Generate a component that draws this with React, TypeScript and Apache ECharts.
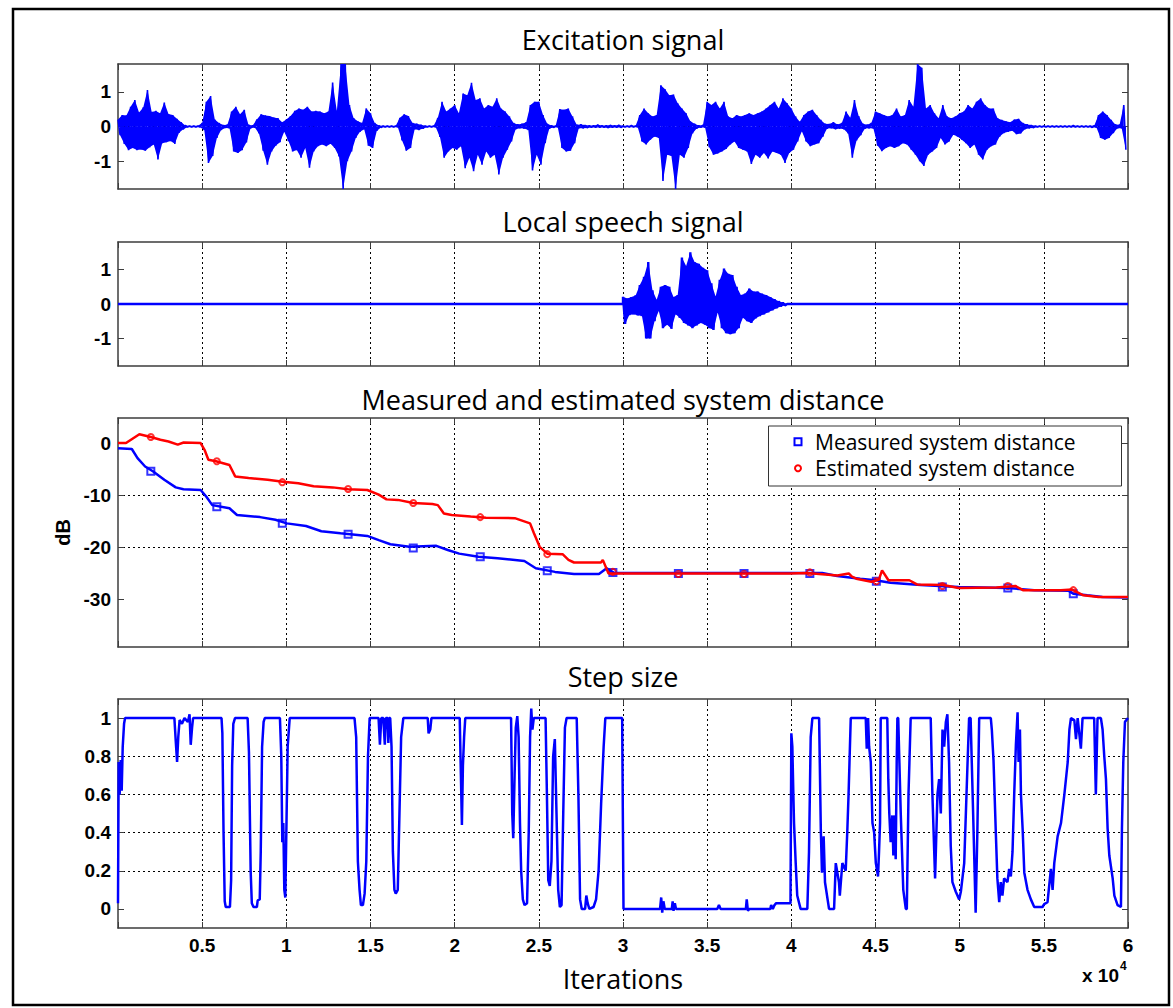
import React, { useEffect, useRef } from 'react';
import * as echarts from 'echarts';

// ---------------------------------------------------------------------------
// Data
// ---------------------------------------------------------------------------

const X_MAX = 60000;
const X_TICK_STEP = 5000;
const BIN = 250; // iterations per envelope bin of the speech waveforms

// Excitation signal: upper / lower envelope per 250-iteration bin (240 bins)
const EXC_HI = [
  0.2, 0.33, 0.32, 0.57, 0.76, 0.4, 0.55, 1.05, 0.42, 0.45,
  0.38, 0.69, 0.36, 0.33, 0.22, 0.12, 0.03, 0.02, 0.02, 0.02,
  0.1, 0.71, 0.88, 0.2, 0.1, 0.04, 0.05, 0.43, 0.57, 0.35,
  0.48, 0.05, 0.03, 0.2, 0.35, 0.32, 0.3, 0.26, 0.24, 0.12,
  0.2, 0.3, 0.45, 0.52, 0.48, 0.57, 0.43, 0.45, 0.43, 0.38,
  0.43, 1.27, 0.45, 1.8, 1.8, 0.62, 0.24, 0.15, 0.1, 0.52,
  0.38, 0.1, 0.03, 0.02, 0.02, 0.02, 0.02, 0.25, 0.35, 0.3,
  0.1, 0.08, 0.05, 0.02, 0.02, 0.02, 0.25, 0.71, 0.43, 0.52,
  0.62, 0.38, 0.95, 0.9, 1.26, 0.76, 0.81, 0.52, 0.62, 0.57,
  0.81, 0.52, 0.43, 0.29, 0.1, 0.06, 0.08, 0.12, 0.62, 0.71,
  0.71, 0.33, 0.08, 0.03, 0.02, 0.5, 0.48, 0.52, 0.29, 0.05,
  0.06, 0.04, 0.03, 0.03, 0.05, 0.03, 0.03, 0.04, 0.03, 0.04,
  0.02, 0.02, 0.03, 0.02, 0.33, 0.52, 0.38, 0.29, 0.33, 1.19,
  1.07, 0.9, 0.92, 0.67, 0.52, 0.38, 0.15, 0.08, 0.03, 0.04,
  0.71, 0.62, 0.71, 0.52, 0.71, 0.29, 0.24, 0.33, 0.29, 0.33,
  0.38, 0.33, 0.38, 0.43, 0.52, 0.62, 0.71, 0.52, 0.81, 0.67,
  0.52, 0.29, 0.14, 0.33, 0.43, 0.48, 0.33, 0.19, 0.08, 0.07,
  0.12, 0.06, 0.1, 0.43, 0.25, 0.76, 0.3, 0.08, 0.05, 0.1,
  0.43, 0.38, 0.33, 0.29, 0.33, 0.52, 0.29, 0.33, 0.76, 0.57,
  1.8, 1.69, 0.52, 0.62, 0.38, 0.24, 0.62, 0.29, 0.24, 0.29,
  0.38, 0.43, 0.62, 0.52, 0.71, 0.81, 0.62, 0.52, 0.52, 0.24,
  0.19, 0.15, 0.12, 0.2, 0.22, 0.1, 0.06, 0.04, 0.02, 0.02,
  0.02, 0.02, 0.02, 0.02, 0.02, 0.02, 0.02, 0.03, 0.02, 0.02,
  0.02, 0.02, 0.03, 0.33, 0.43, 0.33, 0.19, 0.06, 0.05, 0.62,
];
const EXC_LO = [
  -0.25, -0.5, -0.68, -0.62, -0.68, -0.66, -0.7, -0.6, -0.52, -0.95,
  -0.48, -0.45, -0.42, -0.5, -0.18, -0.08, -0.02, -0.02, -0.02, -0.02,
  -0.1, -1.05, -0.85, -0.33, -0.1, -0.04, -0.05, -0.72, -0.76, -0.68,
  -0.46, -0.05, -0.03, -0.2, -0.7, -1.1, -0.72, -0.55, -0.45, -0.15,
  -0.42, -0.72, -0.68, -0.9, -0.62, -1.19, -0.72, -0.57, -0.52, -0.57,
  -0.5, -0.62, -0.86, -1.8, -1.0, -0.72, -0.33, -0.15, -0.08, -0.55,
  -0.62, -0.12, -0.03, -0.02, -0.02, -0.02, -0.02, -0.4, -0.7, -0.62,
  -0.08, -0.1, -0.06, -0.02, -0.02, -0.02, -0.3, -0.9, -0.72, -0.62,
  -0.67, -0.57, -1.2, -0.9, -1.29, -0.81, -1.1, -0.72, -0.9, -0.81,
  -1.38, -0.9, -0.67, -0.43, -0.08, -0.05, -0.06, -0.1, -1.27, -0.81,
  -1.1, -0.48, -0.06, -0.03, -0.02, -0.62, -0.72, -0.7, -0.48, -0.05,
  -0.05, -0.04, -0.03, -0.03, -0.03, -0.03, -0.04, -0.03, -0.03, -0.03,
  -0.02, -0.02, -0.02, -0.02, -0.43, -0.52, -0.38, -0.29, -0.33, -1.57,
  -0.81, -0.85, -1.8, -0.81, -0.9, -0.62, -0.2, -0.06, -0.03, -0.03,
  -0.6, -0.81, -0.78, -0.72, -0.65, -0.52, -0.43, -0.62, -0.67, -0.72,
  -1.08, -0.81, -0.9, -0.76, -0.92, -0.72, -0.76, -0.81, -1.05, -0.76,
  -0.67, -0.43, -0.14, -0.43, -0.57, -0.52, -0.48, -0.29, -0.06, -0.05,
  -0.08, -0.06, -0.08, -0.2, -0.9, -0.4, -0.25, -0.06, -0.05, -0.06,
  -0.55, -0.71, -0.62, -0.57, -0.62, -0.57, -0.48, -0.52, -0.67, -0.81,
  -1.0, -1.14, -0.81, -0.72, -0.62, -0.33, -0.52, -0.43, -0.24, -0.29,
  -0.38, -0.48, -0.62, -0.52, -0.81, -0.95, -0.67, -0.57, -0.52, -0.29,
  -0.19, -0.15, -0.12, -0.22, -0.2, -0.08, -0.05, -0.04, -0.02, -0.02,
  -0.02, -0.02, -0.02, -0.02, -0.02, -0.02, -0.02, -0.02, -0.02, -0.02,
  -0.02, -0.03, -0.03, -0.33, -0.38, -0.33, -0.19, -0.05, -0.05, -0.67,
];

// Local speech signal: silent except bins 120..158
const LOCAL_FIRST_BIN = 120;
const LOCAL_HI = [
  0.21, 0.16, 0.2, 0.25, 0.55, 0.79, 1.22, 0.4, 0.12, 0.5,
  0.55, 0.5, 0.2, 0.26, 1.35, 1.1, 1.5, 1.22, 1.17, 1.05,
  0.98, 0.6, 0.22, 0.7, 1.03, 0.88, 0.84, 0.5, 0.26, 0.3,
  0.45, 0.36, 0.36, 0.3, 0.26, 0.2, 0.14, 0.08, 0.04,
];
const LOCAL_LO = [
  -0.58, -0.32, -0.3, -0.33, -0.35, -1.0, -1.0, -0.5, -0.2, -0.7,
  -0.6, -0.72, -0.3, -0.4, -0.55, -0.62, -0.7, -0.62, -0.55, -0.6,
  -0.7, -0.75, -0.25, -0.7, -0.85, -0.88, -0.85, -0.7, -0.4, -0.5,
  -0.55, -0.42, -0.35, -0.3, -0.24, -0.18, -0.12, -0.07, -0.04,
];

// System distance in dB: [iteration, value]
const MEASURED: [number, number][] = [
  [0, -1.0], [820, -1.15], [1160, -2.9], [1610, -4.5], [2070, -5.4], [2750, -7.05],
  [3430, -8.5], [3890, -8.85], [4910, -9.0], [5250, -10.3], [5600, -11.9], [6620, -12.5],
  [7070, -13.8], [8440, -14.2], [9350, -14.7], [10030, -15.4], [11170, -15.9], [12080, -16.9],
  [13220, -17.3], [14810, -17.8], [15490, -18.6], [16180, -19.4], [17310, -19.9], [18910, -19.7],
  [19590, -20.5], [20270, -21.2], [21410, -21.8], [22550, -22.1], [24140, -22.6], [24820, -24.0],
  [25960, -24.7], [27090, -25.1], [28570, -25.1], [29030, -24.0], [29470, -24.9], [41830, -24.9],
  [42730, -25.5], [44090, -26.0], [44990, -26.3], [45890, -26.8], [47690, -27.2], [49930, -27.6],
  [52860, -27.8], [54430, -28.2], [56460, -28.3], [56750, -28.9], [57580, -29.2], [58480, -29.5],
  [60000, -29.6],
];
const ESTIMATED: [number, number][] = [
  [0, 0], [475, 0], [1270, 1.7], [1950, 1.15], [2520, 0.64], [3000, 0.3], [3550, -0.3],
  [3900, 0.1], [4910, 0.0], [5140, -1.3], [5370, -3.2], [5820, -3.5], [6620, -4.2],
  [6960, -6.4], [7760, -6.7], [8890, -7.05], [9800, -7.4], [10710, -7.7], [11620, -8.3],
  [12760, -8.5], [13670, -8.85], [14810, -9.0], [15490, -9.9], [15950, -10.8], [16630, -10.9],
  [17540, -11.5], [18680, -11.7], [19000, -11.9], [19360, -13.5], [19820, -13.8], [20950, -14.1],
  [21860, -14.3], [23570, -14.4], [24480, -15.4], [24710, -17.3], [25050, -19.9], [25500, -21.2],
  [26410, -21.3], [26760, -22.4], [27090, -22.9], [28690, -22.9], [28800, -22.4], [29140, -25.0],
  [39930, -25.0], [40940, -24.9], [42730, -25.4], [43410, -25.0], [43600, -25.6], [43860, -26.0],
  [44750, -26.6], [45200, -26.2], [45390, -24.4], [45770, -26.3], [47010, -26.3], [47460, -27.1],
  [49030, -27.2], [49930, -27.8], [52180, -27.7], [53310, -27.4], [53760, -28.2], [56010, -28.2],
  [56680, -28.1], [57350, -29.2], [58250, -29.5], [60000, -29.5],
];
const MEASURED_MARKS: [number, number][] = [
  [1950, -5.4], [5870, -12.2], [9760, -15.4], [13670, -17.5], [17540, -20.1],
  [21520, -21.8], [25500, -24.5], [29400, -24.8], [33290, -25.0], [37190, -25.0],
  [41100, -25.0], [45050, -26.5], [48970, -27.6], [52860, -27.8], [56750, -28.9],
];
const ESTIMATED_MARKS: [number, number][] = [
  [1950, 1.15], [5870, -3.5], [9760, -7.5], [13670, -8.8], [17540, -11.5],
  [21520, -14.2], [25500, -21.3], [29400, -24.7], [33290, -25.1], [37190, -25.1],
  [41100, -24.8], [45050, -26.5], [48970, -27.4], [52860, -27.4], [56750, -28.2],
];

// Adaptive step size: [iteration, value]
const STEP_SIZE: [number, number][] = [
  [0, 0.03], [40, 0.77], [100, 0.6], [160, 0.78], [220, 0.62], [280, 0.85], [360, 0.97], [420, 1],
  [3350, 1], [3430, 0.88], [3510, 0.77], [3580, 0.9], [3660, 0.99], [3800, 0.97], [3950, 1.0],
  [4150, 0.98], [4250, 1.02], [4320, 0.86], [4400, 0.95], [4460, 1],
  [6150, 1], [6200, 0.92], [6270, 0.4], [6340, 0.04], [6400, 0.01], [6650, 0.01], [6720, 0.15],
  [6780, 0.75], [6850, 0.97], [6950, 1],
  [7700, 1], [7780, 0.82], [7880, 0.2], [7950, 0.03], [8050, 0.01], [8250, 0.01], [8300, 0.045],
  [8420, 0.05], [8480, 0.3], [8560, 0.85], [8650, 0.98], [8720, 1],
  [9620, 1], [9700, 0.8], [9760, 0.35], [9820, 0.45], [9880, 0.1], [9940, 0.06], [10000, 0.4],
  [10080, 0.85], [10200, 1],
  [14050, 1], [14150, 0.9], [14250, 0.25], [14350, 0.1], [14430, 0.02], [14550, 0.02], [14650, 0.08],
  [14750, 0.25], [14850, 0.8], [14950, 1],
  [15480, 1], [15560, 0.86], [15640, 1], [15760, 1], [15850, 0.86], [15910, 1], [16020, 1],
  [16060, 0.87], [16110, 1], [16170, 1], [16250, 0.85], [16330, 0.3], [16420, 0.1], [16500, 0.08],
  [16620, 0.1], [16720, 0.5], [16820, 0.9], [16950, 1],
  [18400, 1], [18450, 0.92], [18550, 0.94], [18620, 1],
  [20300, 1], [20370, 0.7], [20430, 0.44], [20490, 0.75], [20560, 0.9], [20630, 1],
  [23350, 1], [23420, 0.5], [23480, 0.37], [23560, 0.7], [23630, 0.95], [23720, 1.01], [23800, 0.9],
  [23880, 0.45], [23950, 0.2], [24050, 0.05], [24150, 0.02], [24300, 0.03], [24400, 0.4],
  [24480, 0.9], [24550, 1.05], [24620, 0.94], [24700, 1],
  [25400, 1], [25480, 0.6], [25560, 0.15], [25650, 0.12], [25750, 0.25], [25850, 0.8], [25950, 0.89],
  [26050, 0.5], [26150, 0.1], [26250, 0.01], [26350, 0.02], [26450, 0.5], [26550, 0.95], [26650, 1],
  [27250, 1], [27350, 0.6], [27450, 0.05], [27550, 0.0], [27750, 0], [27820, 0.07], [27900, 0.03],
  [28000, 0.0], [28250, 0.01], [28400, 0.05], [28550, 0.2], [28700, 0.55], [28850, 0.85], [28950, 1],
  [29950, 1], [30030, 0.0],
  [32200, 0], [32270, 0.06], [32330, -0.02], [32400, 0.04], [32480, 0.0], [32900, 0.0], [32950, 0.04],
  [33000, -0.01], [33080, 0.03], [33150, 0.0],
  [35600, 0], [35700, 0.02], [35800, 0],
  [37300, 0], [37350, 0.05], [37420, -0.01], [37500, 0],
  [38750, 0], [38800, 0.02], [38900, 0.0], [39000, 0.02], [39100, 0.03], [39950, 0.03],
  [40000, 0.92], [40060, 0.85], [40120, 0.6], [40160, 0.45], [40260, 0.24], [40350, 0.07],
  [40550, 0.0], [40950, 0.0], [41050, 0.3], [41150, 0.9], [41250, 1], [41650, 1], [41750, 0.42],
  [41820, 0.19], [41920, 0.38], [42000, 0.14], [42240, 0.0], [42540, 0.0], [42640, 0.24],
  [42830, 0.14], [42880, 0.07], [43030, 0.24], [43230, 0.2], [43330, 0.42], [43400, 0.6], [43530, 1],
  [44420, 1], [44480, 0.84], [44560, 1.0], [44620, 0.85], [44720, 0.77], [44820, 0.45], [44920, 0.4],
  [45020, 0.24], [45150, 0.17], [45210, 0.3], [45270, 0.45], [45310, 1], [45700, 1], [45760, 0.68],
  [45820, 0.5], [45900, 0.35], [46000, 0.49], [46060, 0.28], [46140, 0.49], [46200, 0.26],
  [46260, 0.77], [46300, 1], [46350, 1], [46500, 0.5], [46650, 0.1], [46800, 0.0], [46860, 0.0],
  [46960, 0.6], [47090, 1],
  [48280, 1], [48380, 0.6], [48540, 0.16], [48680, 0.6], [48780, 0.68], [48880, 0.5], [48980, 0.94],
  [49080, 0.85], [49180, 0.98], [49270, 1.02], [49370, 0.77], [49470, 0.33], [49570, 0.14],
  [49770, 0.09], [49970, 0.05], [50070, 0.09], [50270, 0.24], [50470, 0.77], [50560, 1], [50650, 1],
  [50800, 0.5], [50950, -0.02], [51050, 0.4], [51160, 1],
  [51850, 1], [51910, 0.94], [52010, 0.78], [52140, 0.42], [52240, 0.16], [52350, 0.035],
  [52440, 0.14], [52540, 0.07], [52640, 0.16], [52840, 0.14], [52940, 0.21], [53040, 0.17],
  [53140, 0.3], [53240, 0.6], [53340, 0.86], [53440, 1.03], [53500, 0.77], [53580, 0.94],
  [53640, 0.6], [53740, 0.42], [53840, 0.19], [54030, 0.1], [54230, 0.05], [54430, 0.01],
  [54920, 0.01], [55020, 0.025], [55220, 0.035], [55420, 0.21], [55520, 0.1], [55620, 0.24],
  [55820, 0.38], [56020, 0.45], [56220, 0.6], [56420, 0.77], [56520, 0.94], [56610, 1],
  [56810, 0.99], [56910, 0.89], [57010, 1], [57200, 0.84], [57300, 1], [57990, 1], [58090, 0.6],
  [58190, 1], [58390, 1], [58490, 0.94], [58590, 0.8], [58690, 0.68], [58790, 0.42], [58890, 0.28],
  [59090, 0.16], [59190, 0.07], [59380, 0.02], [59580, 0.01], [59640, 0.42], [59720, 0.77],
  [59820, 0.98], [60000, 1],
];

const TITLES = [
  'Excitation signal',
  'Local speech signal',
  'Measured and estimated system distance',
  'Step size',
];
const Y_RANGES: [number, number][] = [[-1.8, 1.8], [-1.8, 1.8], [-39.1, 4.8], [-0.1, 1.1]];
const Y_TICKS = [[-1, 0, 1], [-1, 0, 1], [-30, -20, -10, 0], [0, 0.2, 0.4, 0.6, 0.8, 1]];
const LEGEND_NAMES = ['Measured system distance', 'Estimated system distance'];

// ---------------------------------------------------------------------------
// Layout and style
// ---------------------------------------------------------------------------

const WIDTH = 1173;
const HEIGHT = 1008;
const PLOT_LEFT = 118;
const PLOT_WIDTH = 1010;
const PLOT_CENTER = PLOT_LEFT + PLOT_WIDTH / 2;
const PANELS = [
  { top: 64, height: 125, titleY: 39.5 },
  { top: 242, height: 124, titleY: 221 },
  { top: 418, height: 229, titleY: 399 },
  { top: 699, height: 229, titleY: 676.5 },
];
const BLUE = '#0000ff';
const RED = '#ff0000';
const AXIS_COLOR = '#3c3c3c';
const TITLE_FONT = '"Open Sans", sans-serif';
const TICK_FONT = {
  fontFamily: '"Liberation Sans", Arial, sans-serif',
  fontWeight: 'bold' as const,
  fontSize: 19,
  color: '#000',
};

// Speech envelope bins drawn as a dense up/down trace
function zigzag(hi: number[], lo: number[], firstBin: number): [number, number][] {
  const pts: [number, number][] = [];
  hi.forEach((h, i) => {
    const x0 = (firstBin + i) * BIN;
    pts.push([x0, h], [x0 + BIN / 2, lo[i]]);
  });
  return pts;
}

// One side of the envelope as a filled outline
function envelope(vals: number[], firstBin: number, offset: number): [number, number][] {
  return vals.map((v, i) => [(firstBin + i) * BIN + offset, v] as [number, number]);
}

function buildOption(): echarts.EChartsOption {
  const axisLine = { show: true, onZero: false, lineStyle: { color: AXIS_COLOR, width: 1.5 } };
  const tick = { show: true, inside: true, length: 6, lineStyle: { color: AXIS_COLOR, width: 1 } };
  const dotted = {
    show: true,
    showMinLine: false,
    showMaxLine: false,
    lineStyle: { color: '#000', width: 1, type: [2, 3] as number[] },
  };

  const grid = PANELS.map((p) => ({
    left: PLOT_LEFT,
    width: PLOT_WIDTH,
    top: p.top,
    height: p.height,
    containLabel: false,
  }));

  const xAxis: any[] = [];
  PANELS.forEach((_, i) =>
    xAxis.push({
      gridIndex: i,
      type: 'value',
      min: 0,
      max: X_MAX,
      interval: X_TICK_STEP,
      position: 'bottom',
      axisLine,
      axisTick: tick,
      axisLabel: {
        show: i === PANELS.length - 1,
        margin: 8,
        formatter: (v: number) => (v === 0 ? '' : String(v / 10000)),
        ...TICK_FONT,
      },
      splitLine: dotted,
    })
  );
  PANELS.forEach((_, i) =>
    xAxis.push({
      gridIndex: i,
      type: 'value',
      min: 0,
      max: X_MAX,
      interval: X_TICK_STEP,
      position: 'top',
      axisLine,
      axisTick: tick,
      axisLabel: { show: false },
      splitLine: { show: false },
    })
  );

  const yAxis: any[] = [];
  PANELS.forEach((_, i) =>
    yAxis.push({
      gridIndex: i,
      type: 'value',
      min: Y_RANGES[i][0],
      max: Y_RANGES[i][1],
      position: 'left',
      axisLine,
      axisTick: { ...tick, customValues: Y_TICKS[i] },
      axisLabel: { customValues: Y_TICKS[i], margin: 7, ...TICK_FONT },
      splitLine: dotted,
      ...(i === 2
        ? {
            name: 'dB',
            nameLocation: 'middle',
            nameGap: 44,
            nameTextStyle: { ...TICK_FONT, fontSize: 20 },
          }
        : {}),
    })
  );
  PANELS.forEach((_, i) =>
    yAxis.push({
      gridIndex: i,
      type: 'value',
      min: Y_RANGES[i][0],
      max: Y_RANGES[i][1],
      position: 'right',
      axisLine,
      axisTick: { ...tick, customValues: Y_TICKS[i] },
      axisLabel: { show: false, customValues: Y_TICKS[i] },
      splitLine: { show: false },
    })
  );

  const localStart = LOCAL_FIRST_BIN * BIN;
  const localEnd = (LOCAL_FIRST_BIN + LOCAL_HI.length) * BIN;
  const localData: [number, number][] = [
    [0, 0],
    [localStart, 0],
    ...zigzag(LOCAL_HI, LOCAL_LO, LOCAL_FIRST_BIN),
    [localEnd, 0],
    [X_MAX, 0],
  ];

  const lineBase = { type: 'line' as const, symbol: 'none', showSymbol: false, animation: false, clip: true };
  const areaBase = {
    ...lineBase,
    lineStyle: { width: 0, opacity: 0 },
    areaStyle: { color: BLUE, opacity: 1 },
    silent: true,
  };

  const series: any[] = [
    // excitation: filled envelope plus the trace on top
    {
      ...areaBase,
      name: 'excitationUpper',
      xAxisIndex: 0,
      yAxisIndex: 0,
      data: envelope(EXC_HI, 0, 0),
    },
    {
      ...areaBase,
      name: 'excitationLower',
      xAxisIndex: 0,
      yAxisIndex: 0,
      data: envelope(EXC_LO, 0, BIN / 2),
    },
    {
      ...lineBase,
      name: 'excitation',
      xAxisIndex: 0,
      yAxisIndex: 0,
      data: zigzag(EXC_HI, EXC_LO, 0),
      lineStyle: { color: BLUE, width: 1.6 },
    },
    // local speech
    {
      ...areaBase,
      name: 'localUpper',
      xAxisIndex: 1,
      yAxisIndex: 1,
      data: [[localStart, 0], ...envelope(LOCAL_HI, LOCAL_FIRST_BIN, 0), [localEnd, 0]],
    },
    {
      ...areaBase,
      name: 'localLower',
      xAxisIndex: 1,
      yAxisIndex: 1,
      data: [[localStart, 0], ...envelope(LOCAL_LO, LOCAL_FIRST_BIN, BIN / 2), [localEnd, 0]],
    },
    {
      ...lineBase,
      name: 'local',
      xAxisIndex: 1,
      yAxisIndex: 1,
      data: localData,
      lineStyle: { color: BLUE, width: 2.4 },
    },
    // system distance
    {
      ...lineBase,
      name: 'measuredLine',
      xAxisIndex: 2,
      yAxisIndex: 2,
      data: MEASURED,
      lineStyle: { color: BLUE, width: 2.5 },
    },
    {
      type: 'scatter',
      name: LEGEND_NAMES[0],
      xAxisIndex: 2,
      yAxisIndex: 2,
      data: MEASURED_MARKS,
      symbol: 'rect',
      symbolSize: 7,
      itemStyle: { color: 'rgba(0,0,0,0)', borderColor: BLUE, borderWidth: 2 },
      animation: false,
    },
    {
      ...lineBase,
      name: 'estimatedLine',
      xAxisIndex: 2,
      yAxisIndex: 2,
      data: ESTIMATED,
      lineStyle: { color: RED, width: 2.5 },
    },
    {
      type: 'scatter',
      name: LEGEND_NAMES[1],
      xAxisIndex: 2,
      yAxisIndex: 2,
      data: ESTIMATED_MARKS,
      symbol: 'circle',
      symbolSize: 6,
      itemStyle: { color: 'rgba(0,0,0,0)', borderColor: RED, borderWidth: 2 },
      animation: false,
    },
    // step size
    {
      ...lineBase,
      name: 'step',
      xAxisIndex: 3,
      yAxisIndex: 3,
      data: STEP_SIZE,
      lineStyle: { color: BLUE, width: 2.5 },
    },
  ];

  const titleText = (text: string, y: number) => ({
    type: 'text',
    x: PLOT_CENTER,
    y,
    z: 50,
    style: {
      text,
      fontFamily: TITLE_FONT,
      fontSize: 27,
      fill: '#000',
      align: 'center',
      verticalAlign: 'middle',
    },
  });

  const legendBox = { x: 768.5, y: 426, width: 353, height: 60 };
  const legendRowY = [441.7, 468.3];
  const legendMarkX = 798;
  const legendTextX = 815;

  const graphic: any[] = [
    {
      type: 'rect',
      z: 60,
      silent: true,
      shape: { x: 13, y: 9, width: 1156, height: 996 },
      style: { fill: 'none', stroke: '#000', lineWidth: 2.5 },
    },
    ...TITLES.map((t, i) => titleText(t, PANELS[i].titleY)),
    titleText('Iterations', 978),
    {
      type: 'text',
      x: 1119,
      y: 975,
      z: 50,
      style: { text: 'x 10', ...TICK_FONT, fill: '#000', align: 'right', verticalAlign: 'middle' },
    },
    {
      type: 'text',
      x: 1120,
      y: 965.5,
      z: 50,
      style: { text: '4', ...TICK_FONT, fontSize: 12, fill: '#000', align: 'left', verticalAlign: 'middle' },
    },
    // legend
    {
      type: 'rect',
      z: 50,
      shape: legendBox,
      style: { fill: '#fff', stroke: '#333', lineWidth: 1 },
    },
    {
      type: 'rect',
      z: 51,
      shape: { x: legendMarkX - 3.5, y: legendRowY[0] - 3.5, width: 7, height: 7 },
      style: { fill: 'none', stroke: BLUE, lineWidth: 2 },
    },
    {
      type: 'circle',
      z: 51,
      shape: { cx: legendMarkX, cy: legendRowY[1], r: 3 },
      style: { fill: 'none', stroke: RED, lineWidth: 2 },
    },
    ...LEGEND_NAMES.map((name, i) => ({
      type: 'text',
      x: legendTextX,
      y: legendRowY[i],
      z: 51,
      style: {
        text: name,
        fontFamily: TITLE_FONT,
        fontSize: 21,
        fill: '#000',
        align: 'left',
        verticalAlign: 'middle',
      },
    })),
  ];

  return {
    animation: false,
    backgroundColor: '#fff',
    grid,
    xAxis,
    yAxis,
    series,
    graphic,
  };
}

export default function App() {
  const ref = useRef<HTMLDivElement>(null);

  useEffect(() => {
    document.body.style.margin = '0';
    if (!ref.current) return;
    const chart = echarts.init(ref.current, undefined, { renderer: 'svg' });
    chart.setOption(buildOption());
    return () => chart.dispose();
  }, []);

  return <div ref={ref} style={{ width: WIDTH, height: HEIGHT }} />;
}
